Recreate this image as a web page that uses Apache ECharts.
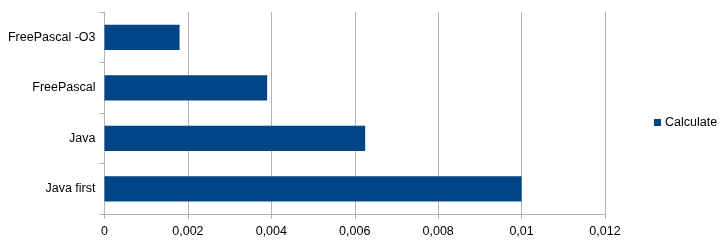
<!DOCTYPE html>
<html><head><meta charset="utf-8">
<script src="https://cdn.jsdelivr.net/npm/echarts@6/dist/echarts.min.js"></script>
<style>html,body{margin:0;padding:0;background:#fff}#c{width:723px;height:246px}</style>
</head><body><div id="c"></div>
<script>
const categories = ["Java first", "Java", "FreePascal", "FreePascal -O3"];
const calculateValues = [0.0100, 0.00625, 0.0039, 0.0018];
const xTicks = [0, 0.002, 0.004, 0.006, 0.008, 0.01, 0.012];
const seriesName = "Calculate";

const chart = echarts.init(document.getElementById('c'), null, {renderer: 'canvas'});
const fmt = v => String(+(+v).toFixed(4)).replace('.', ',');
const FF = 'Liberation Sans, Arial, sans-serif';
chart.setOption({
  animation: false,
  textStyle: {fontFamily: FF},
  grid: {left: 104.5, right: 118, top: 12, bottom: 32, containLabel: false},
  legend: {
    data: [seriesName], left: 654, top: 116, padding: 0, icon: 'rect', itemWidth: 7, itemHeight: 7, itemGap: 4,
    textStyle: {fontSize: 12.5, color: '#000', fontFamily: FF, padding: [0,0,0,-1]}
  },
  xAxis: {
    type: 'value', min: xTicks[0], max: xTicks[xTicks.length - 1], interval: 0.002,
    axisLine: {show: true, lineStyle: {color: '#b3b3b3', width: 1}},
    axisTick: {show: true, length: 5, lineStyle: {color: '#b3b3b3'}},
    splitLine: {show: true, lineStyle: {color: '#b3b3b3', width: 1}},
    axisLabel: {formatter: fmt, color: '#000', fontSize: 12.5, margin: 11, fontFamily: FF}
  },
  yAxis: {
    type: 'category', data: categories,
    axisLine: {show: true, lineStyle: {color: '#b3b3b3', width: 1}},
    axisTick: {show: true, length: 5, alignWithLabel: false, lineStyle: {color: '#b3b3b3'}},
    axisLabel: {color: '#000', fontSize: 12.5, margin: 9, fontFamily: FF},
    splitLine: {show: false}
  },
  series: [{
    name: seriesName, type: 'bar', data: calculateValues, barWidth: '50%',
    itemStyle: {color: '#004586'}
  }]
});
</script></body></html>
